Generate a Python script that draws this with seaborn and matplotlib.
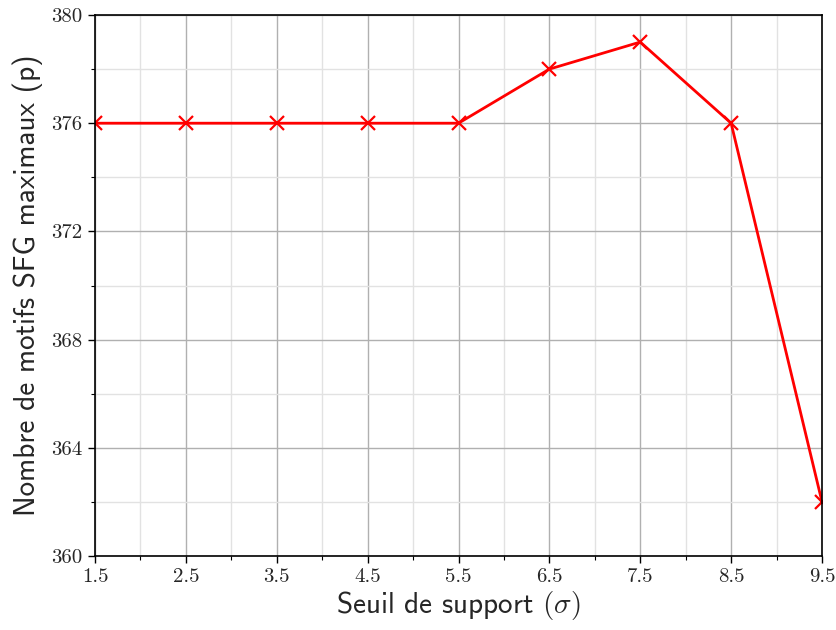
import matplotlib
matplotlib.use("Agg")
import matplotlib.pyplot as plt
import seaborn as sns
import pandas as pd
from matplotlib.ticker import MultipleLocator, FixedLocator

seuil = [1.5, 2.5, 3.5, 4.5, 5.5, 6.5, 7.5, 8.5, 9.5]
nb_motifs = [376, 376, 376, 376, 376, 378, 379, 376, 362]
x_ticks = [1.5, 2.5, 3.5, 4.5, 5.5, 6.5, 7.5, 8.5, 9.5]
y_ticks = [360, 364, 368, 372, 376, 380]

sns.set_style("white")
plt.rcParams['mathtext.fontset'] = 'cm'

df = pd.DataFrame({"seuil": seuil, "nb": nb_motifs})

fig = plt.figure(figsize=(8.36, 6.3), dpi=100)
ax = fig.add_axes([95/836, 1 - 556/630, (822-95)/836, (556-15)/630])

ax.set_xlim(1.5, 9.5)
ax.set_ylim(360, 380)
ax.xaxis.set_major_locator(FixedLocator(x_ticks))
ax.xaxis.set_minor_locator(MultipleLocator(1.0))
ax.yaxis.set_major_locator(FixedLocator(y_ticks))
ax.yaxis.set_minor_locator(FixedLocator([362, 366, 370, 374, 378]))
ax.set_xticklabels([f"{v}" for v in x_ticks])
ax.set_yticklabels([f"{v}" for v in y_ticks])

ax.grid(True, which='major', color='#b0b0b0', linewidth=1.0)
ax.grid(True, which='minor', color='#e2e2e2', linewidth=1.0)
ax.set_axisbelow(True)

sns.lineplot(data=df, x="seuil", y="nb", ax=ax, color='red', linewidth=2,
             marker='x', markersize=10, markeredgewidth=1.6, markeredgecolor='red')

for sp in ax.spines.values():
    sp.set_color('black')
    sp.set_linewidth(1.2)

ax.tick_params(which='major', direction='out', length=5, width=1, bottom=True, left=True,
               top=False, right=False, labelsize=15, color='black', pad=4)
ax.tick_params(which='minor', direction='out', length=3, width=0.8, bottom=True, left=True,
               top=False, right=False, color='black')
for lab in ax.get_xticklabels() + ax.get_yticklabels():
    lab.set_fontfamily('cmr10')

ax.set_xlabel(r"Seuil de support $(\sigma)$", fontsize=21, fontfamily='cmss10', labelpad=2)
ax.set_ylabel("Nombre de motifs SFG maximaux (p)", fontsize=21, fontfamily='cmss10', labelpad=6)

fig.savefig("out.png", dpi=100)
